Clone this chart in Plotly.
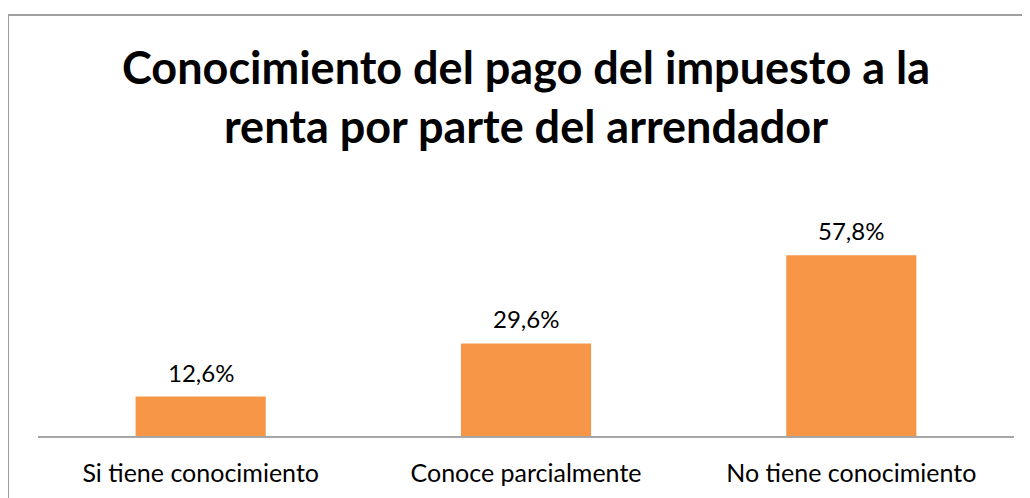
import plotly.graph_objects as go

# datos del grafico
categorias = ["Si tiene conocimiento", "Conoce parcialmente", "No tiene conocimiento"]
porcentajes = [12.6, 29.6, 57.8]
titulo = "Conocimiento del pago del impuesto a la<br>renta por parte del arrendador"

fuente = "Lato, 'Open Sans', sans-serif"

fig = go.Figure()
fig.add_trace(go.Bar(x=categorias, y=porcentajes,
                     marker=dict(color="#F79646", line=dict(width=0))))

# etiquetas de datos encima de cada barra
for cat, val in zip(categorias, porcentajes):
    fig.add_annotation(x=cat, y=val, text=f"{val:.1f}%".replace(".", ","),
                       showarrow=False, yanchor="bottom", yshift=8,
                       font=dict(size=24, family=fuente, color="#000000"))

# titulo
fig.add_annotation(xref="paper", yref="paper", x=0.5, y=1.55,
                   xanchor="center", yanchor="middle", showarrow=False,
                   text="<b>" + titulo + "</b>",
                   font=dict(size=45, family=fuente, color="#000000"))

fig.update_layout(
    width=1030, height=498,
    margin=dict(l=30, r=24, t=209, b=70),
    paper_bgcolor="white", plot_bgcolor="white",
    bargap=0.6,
    showlegend=False,
    font=dict(family=fuente, color="#000000"),
)
fig.update_xaxes(showline=True, linecolor="#A6A6A6", linewidth=2,
                 showgrid=False, ticks="", ticklabelstandoff=14,
                 tickfont=dict(size=25, family=fuente, color="#000000"))
fig.update_yaxes(range=[0, 70], visible=False, showgrid=False)

# borde del area del grafico
fig.add_shape(type="rect", xref="paper", yref="paper",
              x0=-0.0307, x1=1.05, y0=-0.4, y1=1.922,
              line=dict(color="#A0A0A0", width=2), fillcolor="rgba(0,0,0,0)",
              layer="below")

fig.write_html("out.html")
